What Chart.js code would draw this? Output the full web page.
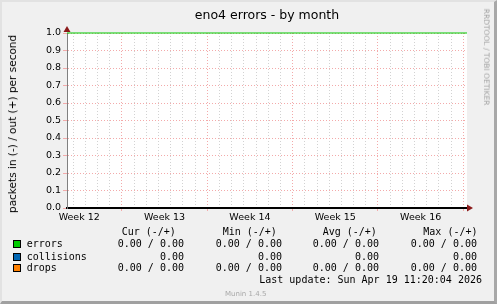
<!DOCTYPE html>
<html>
<head>
  <title>eno4 errors - by month</title>
  <script src="https://cdn.jsdelivr.net/npm/chart.js"></script>
  <style>
    body {
      margin: 0;
      width: 497px;
      height: 304px;
      position: relative;
      overflow: hidden;
      font-family: "DejaVu Sans", sans-serif;
    }
    #frame {
      position: absolute;
      left: 0; top: 0;
      width: 497px; height: 304px;
      box-sizing: border-box;
      background: #f0f0f0;
      border-style: solid;
      border-width: 2px 3px 3px 2px;
      border-color: #e2e2e2 #a8a8a8 #a0a0a0 #e2e2e2;
    }
    #chart {
      position: absolute;
      left: 0; top: 0;
    }
    .txt {
      position: absolute;
      white-space: pre;
      line-height: 12px;
    }
    .mono {
      font-family: "DejaVu Sans Mono", monospace;
      font-size: 10px;
      color: #000;
    }
    .sq {
      position: absolute;
      width: 6px; height: 6px;
      border: 1px solid #000;
    }
  </style>
</head>
<body>
  <div id="frame"></div>
  <canvas id="chart" width="497" height="304"></canvas>
  <div id="labels"></div>
  <script>
    // chart text
    const chartTitle = 'eno4 errors - by month';
    const yTitle = 'packets in (-) / out (+) per second';
    const sideText = 'RRDTOOL / TOBI OETIKER';

    // x axis: days since the left edge of the graph
    const weekLabels = ['Week 12', 'Week 13', 'Week 14', 'Week 15', 'Week 16'];
    const weekDays = [1, 8, 15, 22, 29];

    // errors line as drawn (sits on the 1.0 line the whole month)
    const errorDays = [0, 4, 8, 12, 16, 20, 24, 28, 32.8];
    const errorValues = [1, 1, 1, 1, 1, 1, 1, 1, 1];

    // legend
    const seriesNames = ['errors', 'collisions', 'drops'];
    const seriesColors = ['#00cc00', '#0066b3', '#ff8000'];
    const colHeaders = ['Cur (-/+)', 'Min (-/+)', 'Avg (-/+)', 'Max (-/+)'];
    const curValues = ['0.00 / 0.00', '0.00', '0.00 / 0.00'];
    const minValues = ['0.00 / 0.00', '0.00', '0.00 / 0.00'];
    const avgValues = ['0.00 / 0.00', '0.00', '0.00 / 0.00'];
    const maxValues = ['0.00 / 0.00', '0.00', '0.00 / 0.00'];
    const lastUpdate = 'Last update: Sun Apr 19 11:20:04 2026';
    const version = 'Munin 1.4.5';

    const xMax = 32.8;
    const gridGray = '#d2d2d2';
    const gridRed = '#f3aaaa';

    function isWeekTick(v) {
      return weekDays.indexOf(v) !== -1;
    }
    function isMajor(v) {
      return Math.abs(((v - 4.5) % 7 + 7) % 7) < 0.01;
    }

    const plotBg = {
      id: 'plotBg',
      beforeDraw(chart) {
        const a = chart.chartArea;
        const c = chart.ctx;
        c.save();
        c.fillStyle = '#ffffff';
        c.fillRect(a.left, a.top, a.right - a.left, a.bottom - a.top);
        c.restore();
      }
    };

    const arrows = {
      id: 'arrows',
      afterDraw(chart) {
        const a = chart.chartArea;
        const c = chart.ctx;
        c.save();
        c.fillStyle = '#8b1a1a';
        c.beginPath();
        c.moveTo(a.left, a.top - 7);
        c.lineTo(a.left - 3.5, a.top - 1);
        c.lineTo(a.left + 3.5, a.top - 1);
        c.closePath();
        c.fill();
        c.beginPath();
        c.moveTo(a.right + 6, a.bottom);
        c.lineTo(a.right, a.bottom - 3.5);
        c.lineTo(a.right, a.bottom + 3.5);
        c.closePath();
        c.fill();
        c.restore();
      }
    };

    new Chart(document.getElementById('chart'), {
      type: 'line',
      data: {
        datasets: [{
          label: seriesNames[0],
          data: errorDays.map((d, i) => ({ x: d, y: errorValues[i] })),
          borderColor: seriesColors[0],
          borderWidth: 1.1,
          pointRadius: 0,
          tension: 0,
          fill: false,
          clip: false
        }]
      },
      options: {
        responsive: false,
        devicePixelRatio: 1,
        animation: false,
        layout: { padding: { left: 0, top: 33, right: 30, bottom: 0 } },
        plugins: {
          legend: { display: false },
          tooltip: { enabled: false },
          title: { display: false }
        },
        scales: {
          x: {
            type: 'linear',
            min: 0,
            max: xMax,
            afterFit(scale) { scale.height = 96; },
            afterBuildTicks(scale) {
              const t = [];
              for (let d = 0.5; d < xMax; d += 1) t.push({ value: d });
              weekDays.forEach(d => t.push({ value: d }));
              t.sort((p, q) => p.value - q.value);
              scale.ticks = t;
            },
            ticks: {
              autoSkip: false,
              maxRotation: 0,
              padding: 1,
              color: '#000',
              font: { family: 'DejaVu Sans', size: 9.5 },
              callback(v) {
                const i = weekDays.indexOf(v);
                return i === -1 ? '' : weekLabels[i];
              }
            },
            grid: {
              drawTicks: true,
              tickLength: 3,
              color(ctx) {
                const v = ctx.tick ? ctx.tick.value : 0;
                if (isWeekTick(v)) return 'rgba(0,0,0,0)';
                return isMajor(v) ? gridRed : gridGray;
              },
              tickColor(ctx) {
                const v = ctx.tick ? ctx.tick.value : 0;
                if (isWeekTick(v)) return 'rgba(0,0,0,0)';
                return isMajor(v) ? gridRed : 'rgba(0,0,0,0)';
              }
            },
            border: { display: true, color: '#000', width: 2, dash: [1, 2] }
          },
          y: {
            min: 0,
            max: 1,
            afterFit(scale) { scale.width = 67; },
            ticks: {
              stepSize: 0.1,
              padding: 2,
              color: '#000',
              font: { family: 'DejaVu Sans', size: 9.5 },
              callback: v => v.toFixed(1)
            },
            grid: {
              tickLength: 4,
              color: gridRed,
              tickColor: gridRed
            },
            border: { display: true, color: '#808080', width: 1, dash: [1, 2] }
          }
        }
      },
      plugins: [plotBg, arrows]
    });

    // text around the plot
    const box = document.getElementById('labels');
    function put(text, left, top, cls, style) {
      const el = document.createElement('div');
      el.className = 'txt ' + (cls || '');
      el.textContent = text;
      el.style.left = left + 'px';
      el.style.top = top + 'px';
      Object.assign(el.style, style || {});
      box.appendChild(el);
      return el;
    }

    put(chartTitle, 267, 14, '', {
      fontSize: '12.5px', transform: 'translate(-50%, -50%)', lineHeight: '15px'
    });
    put(yTitle, 12, 123.5, '', {
      fontSize: '10.5px', transform: 'translate(-50%, -50%) rotate(-90deg)'
    });
    put(sideText, 486, 56.5, '', {
      fontSize: '7.5px', color: '#a4a4a4', transform: 'translate(-50%, -50%) rotate(90deg)'
    });

    // legend table
    const headerLeft = [121.7, 222.7, 322.7, 423.3];
    const colRight = [184, 282, 379, 477];
    const rowY = [244.3, 256.7, 268.3];
    colHeaders.forEach((h, i) => put(h, headerLeft[i], 232 - 6, 'mono'));
    const cols = [curValues, minValues, avgValues, maxValues];
    seriesNames.forEach((name, r) => {
      const sq = document.createElement('div');
      sq.className = 'sq';
      sq.style.left = '13px';
      sq.style.top = (rowY[r] - 4) + 'px';
      sq.style.background = seriesColors[r];
      box.appendChild(sq);
      put(name, 26.7, rowY[r] - 6, 'mono');
      cols.forEach((col, c) => {
        put(col[r], colRight[c], rowY[r] - 6, 'mono', { transform: 'translateX(-100%)' });
      });
    });
    put(lastUpdate, 482, 280 - 6, 'mono', { transform: 'translateX(-100%)' });
    put(version, 225, 294 - 5, '', { fontSize: '7px', color: '#a8a8a8', lineHeight: '10px' });
  </script>
</body>
</html>
